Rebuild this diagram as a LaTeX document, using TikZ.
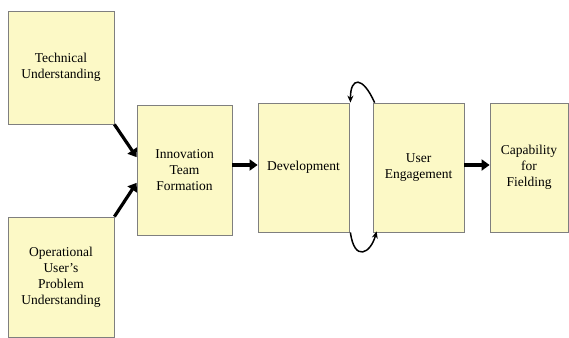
\documentclass[tikz,border=0pt]{standalone}
\usepackage{fontspec}
\setmainfont{Liberation Serif}
\usetikzlibrary{arrows.meta,calc}
\definecolor{boxfill}{HTML}{FCF9C6}
\definecolor{boxline}{HTML}{7F7F7F}
\begin{document}
\begin{tikzpicture}[x=1pt,y=-1pt,
  box/.style={draw=boxline,fill=boxfill,line width=0.8pt,align=center,
    font=\fontsize{13.5}{16}\selectfont,inner sep=0pt},
  bigarrow/.style={line width=3.2pt,-{Triangle[length=8pt,width=11pt]}},
  loop/.style={line width=1.5pt,-{Stealth[length=7pt,width=6pt]}}]
\useasboundingbox (0,0) rectangle (569,337);
\fill[white] (0,0) rectangle (569,337);
\node[box,minimum width=106pt,minimum height=113pt] (tech) at (61,67.5) {Technical\\Understanding};
\node[box,minimum width=106pt,minimum height=120pt] (oper) at (61,277) {Operational\\User’s\\Problem\\Understanding};
\node[box,minimum width=95pt,minimum height=130pt] (innov) at (184.5,170) {Innovation\\Team\\Formation};
\node[box,minimum width=91pt,minimum height=129pt] (dev) at (303.5,167.5) {Development};
\node[box,minimum width=91pt,minimum height=129pt] (user) at (418.5,167.5) {User\\Engagement};
\node[box,minimum width=78pt,minimum height=129pt] (cap) at (529,167.5) {Capability\\for\\Fielding};
\draw[bigarrow] (tech.south east) -- (innov.165);
\draw[bigarrow] (oper.north east) -- (innov.195);
\draw[bigarrow] ([yshift=5pt]innov.east) -- ([yshift=5pt]innov.east -| dev.west);
\draw[bigarrow] ([yshift=2.5pt]user.east) -- ([yshift=2.5pt]user.east -| cap.west);
\draw[loop] ([xshift=2pt]user.north west) .. controls +(-12,-27) and +(0,-26) .. ([xshift=1pt]dev.north east);
\draw[loop] ([xshift=1pt]dev.south east) .. controls +(4,30) and +(-6,22) .. ([xshift=4pt,yshift=1pt]user.south west);
\end{tikzpicture}
\end{document}
